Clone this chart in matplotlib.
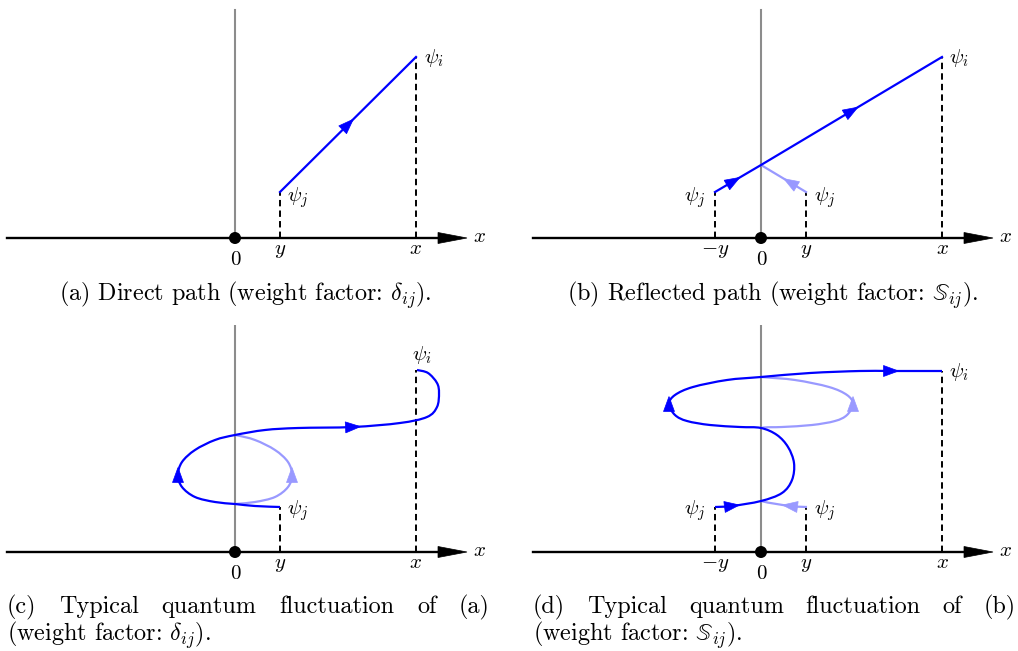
import numpy as np
import matplotlib.pyplot as plt
from matplotlib.path import Path
from matplotlib.patches import PathPatch, Polygon, Circle

plt.rcParams['mathtext.fontset'] = 'cm'
plt.rcParams['font.family'] = ['cmr10', 'DejaVu Serif']
plt.rcParams['axes.formatter.use_mathtext'] = True
plt.rcParams['lines.scale_dashes'] = False

BLUE = '#0000ff'
LIGHT = '#9999ff'
GRAY = '#8c8c8c'
FS_LAB = 15
FS_CAP = 17.4

# positions on the x axis (px from the origin) and path heights
y_pos = 45
neg_y = -46
x_pos = 181
psi_j_h = 46
psi_i_h = 181

# (a) direct path
a_path = [(y_pos, psi_j_h), (x_pos, psi_i_h)]

# (b) reflected path, crosses the wall at height 73
b_path = [(neg_y, psi_j_h), (0, 73), (x_pos, psi_i_h)]
b_ghost = [(y_pos, psi_j_h), (0, 73)]

# (c) fluctuation of the direct path, from psi_j to psi_i
c_path = [(45, 45), (20, 46), (0, 48), (-20, 50), (-40, 55), (-53, 65),
          (-57, 77), (-53, 90), (-40, 102), (-20, 112), (0, 117), (30, 122),
          (63, 124), (118, 125), (165, 129), (192, 135), (202, 145),
          (204, 159), (202, 169), (193, 179), (182, 182)]
c_mirror = [(2, 10)]
c_arrows = [6, 13]
c_ghost_arrows = [6]

# (d) fluctuation of the reflected path
d_path = [(-46, 45), (-29, 46), (0, 51), (21, 59), (31, 72), (33, 89),
          (27, 105), (16, 117), (0, 124), (-21, 125), (-51, 127),
          (-74, 131), (-86, 137), (-92, 148), (-86, 157), (-68, 165),
          (-34, 172), (0, 175), (49, 179), (99, 181), (130, 181), (181, 181)]
d_mirror = [(0, 2), (8, 17)]
d_arrows = [1, 13, 20]
d_ghost_arrows = [1, 13]

captions = {
    'a': '(a) Direct path (weight factor: $\\delta_{ij}$).',
    'b': '(b) Reflected path (weight factor: $\\mathbb{S}_{ij}$).',
}
c_line1 = ['(c)', 'Typical', 'quantum', 'fluctuation', 'of', '(a)']
c_line2 = '(weight factor: $\\delta_{ij}$).'
d_line1 = ['(d)', 'Typical', 'quantum', 'fluctuation', 'of', '(b)']
d_line2 = '(weight factor: $\\mathbb{S}_{ij}$).'

W, H = 1018, 651
fig = plt.figure(figsize=(W / 100, H / 100), dpi=100)


def panel(left, top, width, height, ox, oy):
    ax = fig.add_axes([left / W, 1 - (top + height) / H, width / W, height / H])
    ax.set_xlim(left - ox, left + width - ox)
    ax.set_ylim(oy - top - height, oy - top)
    ax.axis('off')
    return ax


def base(ax, ticks, wall_top):
    ax.plot([0, 0], [0, wall_top], color=GRAY, lw=1.5, zorder=1)
    ax.plot([-228, 206], [0, 0], color='k', lw=1.7, zorder=2)
    ax.add_patch(Polygon([[232, 0], [203, 5.5], [203, -5.5]], closed=True,
                         fc='k', ec='k', lw=0.5, zorder=3))
    ax.text(238, 1, '$x$', ha='left', va='center', fontsize=FS_LAB)
    ax.add_patch(Circle((0, 0), 6, fc='k', ec='none', zorder=8))
    ax.text(0, -27, '0', ha='center', va='baseline', fontsize=FS_LAB)
    for xv, h, lab in ticks:
        ax.plot([xv, xv], [0, h], color='k', lw=1.4, dashes=(4.6, 3.0), zorder=2)
        ax.text(xv, -16, lab, ha='center', va='baseline', fontsize=FS_LAB)


def head(ax, pos, direction, color, size=15, half=5.5):
    d = np.asarray(direction, float)
    d = d / np.hypot(*d)
    n = np.array([-d[1], d[0]])
    c = np.asarray(pos, float)
    tip = c + d * size * 0.5
    back = c - d * size * 0.5
    ax.add_patch(Polygon([tip, back + n * half, back - n * half], closed=True,
                         fc=color, ec=color, lw=0.5, zorder=6))


def bezier(pts):
    p = np.asarray(pts, float)
    ext = np.vstack([p[0], p, p[-1]])
    segs = []
    for k in range(len(p) - 1):
        p0, p1, p2, p3 = ext[k], ext[k + 1], ext[k + 2], ext[k + 3]
        segs.append([p1, p1 + (p2 - p0) / 6, p2 - (p3 - p1) / 6, p2])
    return segs


def draw_segs(ax, segs, color, z):
    verts = [segs[0][0]]
    codes = [Path.MOVETO]
    for s in segs:
        verts += [s[1], s[2], s[3]]
        codes += [Path.CURVE4] * 3
    ax.add_patch(PathPatch(Path(verts, codes), fc='none', ec=color, lw=1.6,
                           zorder=z, capstyle='butt'))


def mirror(segs):
    return [[np.array([-q[0], q[1]]) for q in s] for s in segs]


def fluctuation(ax, pts, spans, arrows, ghost_arrows):
    segs = bezier(pts)
    flip = mirror(segs)
    for i, j in spans:
        draw_segs(ax, flip[i:j], LIGHT, 4)
    draw_segs(ax, segs, BLUE, 5)
    for k in arrows:
        head(ax, segs[k][0], segs[k][1] - segs[k][0], BLUE)
    for k in ghost_arrows:
        head(ax, flip[k][0], flip[k][1] - flip[k][0], LIGHT)


def justify(ax, words, y, left, right):
    r = fig.canvas.get_renderer()
    ts = [ax.text(0, y, w, fontsize=FS_CAP, ha='left', va='baseline') for w in words]
    widths = [t.get_window_extent(r).width for t in ts]
    gap = (right - left - sum(widths)) / (len(words) - 1)
    x = left
    for t, w in zip(ts, widths):
        t.set_x(x)
        x += w + gap


# (a)
ax = panel(0, 0, 509, 325, 235, 238)
base(ax, [(y_pos, psi_j_h, '$y$'), (x_pos, psi_i_h, '$x$')], 228)
xs, ys = zip(*a_path)
ax.plot(xs, ys, color=BLUE, lw=1.6, zorder=5)
p, q = np.array(a_path, float)
head(ax, p + 0.5 * (q - p), q - p, BLUE)
ax.text(52, 40, '$\\psi_j$', ha='left', va='center', fontsize=FS_LAB)
ax.text(189, 180, '$\\psi_i$', ha='left', va='center', fontsize=FS_LAB)
ax.text(10, -63, captions['a'], ha='center', va='baseline', fontsize=FS_CAP)

# (b)
ax = panel(509, 0, 509, 325, 761, 238)
base(ax, [(neg_y, psi_j_h, '$-y$'), (y_pos, psi_j_h, '$y$'),
          (x_pos, psi_i_h, '$x$')], 228)
xs, ys = zip(*b_ghost)
ax.plot(xs, ys, color=LIGHT, lw=1.6, zorder=4)
xs, ys = zip(*b_path)
ax.plot(xs, ys, color=BLUE, lw=1.6, zorder=5)
pts = np.array(b_path, float)
head(ax, pts[0] + 0.4 * (pts[1] - pts[0]), pts[1] - pts[0], BLUE)
head(ax, pts[1] + 0.5 * (pts[2] - pts[1]), pts[2] - pts[1], BLUE)
g = np.array(b_ghost, float)
head(ax, g[0] + 0.35 * (g[1] - g[0]), g[1] - g[0], LIGHT)
ax.text(-56, 40, '$\\psi_j$', ha='right', va='center', fontsize=FS_LAB)
ax.text(53, 40, '$\\psi_j$', ha='left', va='center', fontsize=FS_LAB)
ax.text(188, 180, '$\\psi_i$', ha='left', va='center', fontsize=FS_LAB)
ax.text(12, -63, captions['b'], ha='center', va='baseline', fontsize=FS_CAP)

# (c)
ax = panel(0, 325, 509, 326, 235, 552)
base(ax, [(y_pos, 45, '$y$'), (x_pos, 182, '$x$')], 230)
fluctuation(ax, c_path, c_mirror, c_arrows, c_ghost_arrows)
ax.text(52, 41, '$\\psi_j$', ha='left', va='center', fontsize=FS_LAB)
ax.text(177, 197, '$\\psi_i$', ha='left', va='center', fontsize=FS_LAB)
justify(ax, c_line1, -61, -228, 255)
ax.text(-228, -89, c_line2, ha='left', va='baseline', fontsize=FS_CAP)

# (d)
ax = panel(509, 325, 509, 326, 761, 552)
base(ax, [(neg_y, 45, '$-y$'), (y_pos, 45, '$y$'), (x_pos, 181, '$x$')], 230)
fluctuation(ax, d_path, d_mirror, d_arrows, d_ghost_arrows)
ax.text(-56, 41, '$\\psi_j$', ha='right', va='center', fontsize=FS_LAB)
ax.text(53, 41, '$\\psi_j$', ha='left', va='center', fontsize=FS_LAB)
ax.text(188, 180, '$\\psi_i$', ha='left', va='center', fontsize=FS_LAB)
justify(ax, d_line1, -61, -228, 255)
ax.text(-228, -89, d_line2, ha='left', va='baseline', fontsize=FS_CAP)

fig.savefig('out.png', dpi=100)
